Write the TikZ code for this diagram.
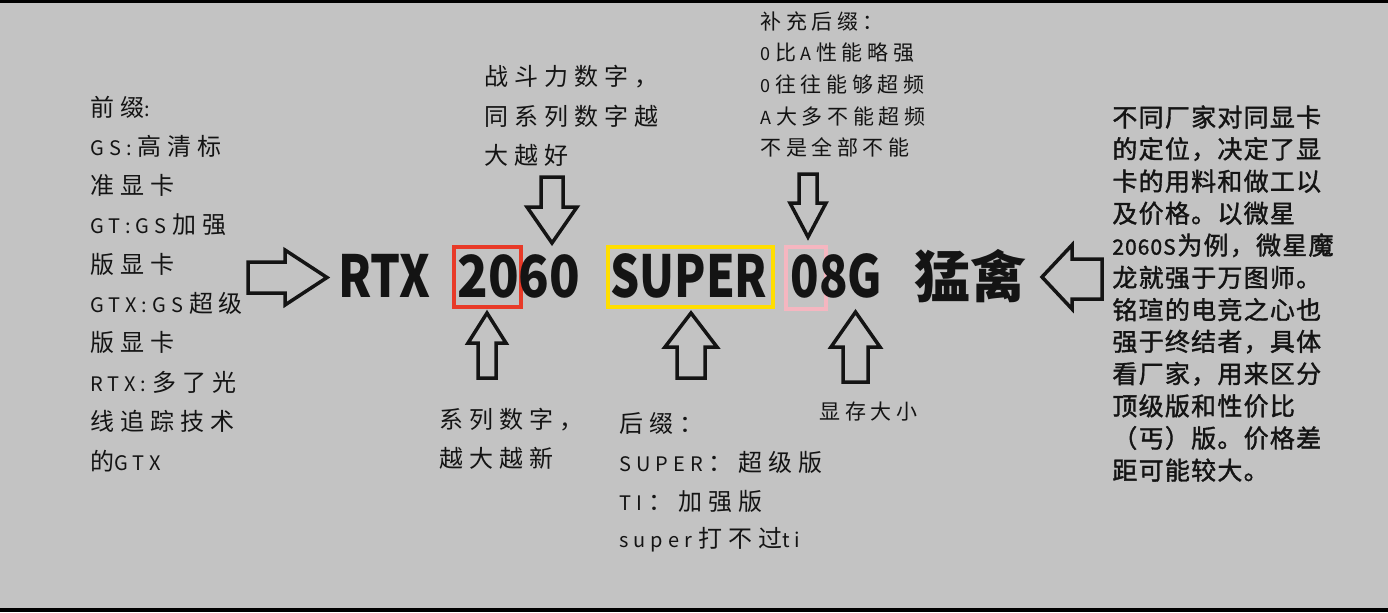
\documentclass[tikz,border=0pt]{standalone}
\usepackage{fontspec}
\setmainfont{Noto Sans CJK SC}
\newfontfamily\fA[LetterSpace=25]{Noto Sans CJK SC}
\newfontfamily\fB[LetterSpace=22]{Noto Sans CJK SC}
\newfontfamily\fC[LetterSpace=5,FakeBold=1.5]{Noto Sans CJK SC}
\newcommand\la[1]{{\fontsize{10}{12}\selectfont #1}\kern3pt}
\newcommand\lb[1]{{\fontsize{9}{11}\selectfont #1}\kern2.5pt}
\newcommand\lc[1]{{\fontsize{10.5}{12}\selectfont #1}\kern0.8pt}
\definecolor{bggray}{RGB}{195,195,195}
\definecolor{ink}{RGB}{20,20,20}
\definecolor{boxred}{RGB}{232,58,40}
\definecolor{boxyellow}{RGB}{255,222,0}
\definecolor{boxpink}{RGB}{245,182,192}
\tikzset{
  lblA/.style={anchor=west, inner sep=0pt, text=ink, font=\fA\fontsize{12}{14}\selectfont},
  lblB/.style={anchor=west, inner sep=0pt, text=ink, font=\fB\fontsize{10.5}{12}\selectfont},
  lblC/.style={anchor=west, inner sep=0pt, text=ink, font=\fC\fontsize{12.5}{14}\selectfont},
  title/.style={anchor=base west, inner sep=0pt, text=ink, font=\bfseries\fontsize{29}{34}\selectfont},
  blk/.style={draw=ink, line width=1.75pt, line join=miter},
  markbox/.style={draw=#1, line width=1.6pt, inner sep=0pt}
}
\begin{document}
\begin{tikzpicture}[x=0.5pt,y=-0.5pt]
\useasboundingbox (0,0) rectangle (1388,612);
\fill[bggray] (0,0) rectangle (1388,612);
\fill[black] (0,0) rectangle (1388,2.5);
\fill[black] (0,608) rectangle (1388,612);

% highlight boxes
\draw[markbox=boxred] (454,247) rectangle (521,307);
\draw[markbox=boxyellow] (608,247) rectangle (773,307);
\draw[markbox=boxpink] (786,247) rectangle (826,309);

% title
\node[title] (rtx) at (338,297) {\scalebox{0.81}[1]{RTX}};
\node[title] (num) at (457,297) {\scalebox{0.87}[1]{2060}};
\node[title] (super) at (610,297) {\scalebox{0.79}[1]{SUPER}};
\node[title] (mem) at (790,297) {\scalebox{0.81}[1]{08G}};
\node[anchor=center, inner sep=0pt, text=ink, font=\bfseries\fontsize{28}{32}\selectfont] (brand) at (970,276) {猛禽};

% block arrows
\draw[blk] (248,262) -- (285,262) -- (285,250) -- (327,277.5) -- (285,305) -- (285,293) -- (248,293) -- cycle;
\draw[blk] (1102,259) -- (1072,259) -- (1072,245) -- (1042,277) -- (1072,309) -- (1072,299) -- (1102,299) -- cycle;
\draw[blk] (541,177) -- (563,177) -- (563,207) -- (577,207) -- (552,243) -- (527,207) -- (541,207) -- cycle;
\draw[blk] (799,174) -- (817,174) -- (817,203) -- (826,203) -- (808,237) -- (790,203) -- (799,203) -- cycle;
\draw[blk] (478,378) -- (496,378) -- (496,343) -- (506,343) -- (487,313) -- (468,343) -- (478,343) -- cycle;
\draw[blk] (677,378) -- (705,378) -- (705,347) -- (717,347) -- (691,313) -- (665,347) -- (677,347) -- cycle;
\draw[blk] (843,382) -- (868,382) -- (868,347) -- (880,347) -- (855.5,312) -- (831,347) -- (843,347) -- cycle;

% left block
\foreach \t [count=\i from 0] in {{前缀\la{:}},{\la{GS:}高清标},{准显卡},{\la{GT:GS}加强},{版显卡},{\la{GTX:GS}超级},{版显卡},{\la{RTX:}多了光},{线追踪技术},{的\la{GTX}}}
  \node[lblA] (pre\i) at (90,{107+\i*39.3}) {\t};

% top middle
\foreach \t [count=\i from 0] in {{战斗力数字，},{同系列数字越},{大越好}}
  \node[lblA] (power\i) at (484,{77+\i*39}) {\t};

% bottom middle-left
\foreach \t [count=\i from 0] in {{系列数字，},{越大越新}}
  \node[lblA] (series\i) at (439,{420+\i*38.5}) {\t};

% suffix block
\foreach \t [count=\i from 0] in {{后缀：},{\la{SUPER}：超级版},{\la{TI}：加强版},{\la{super}打不过\la{ti}}}
  \node[lblA] (suf\i) at (619,{423+\i*39}) {\t};

% top right block
\foreach \t [count=\i from 0] in {{补充后缀：},{\lb{0}比\kern2pt\lb{A}性能略强},{\lb{0}往往能够超频},{\lb{A}大多不能超频},{不是全部不能}}
  \node[lblB] (extra\i) at (760,{21+\i*31.7}) {\t};

\node[lblB] (vram) at (819,412) {显存大小};

% right block
\foreach \t [count=\i from 0] in {{不同厂家对同显卡},{的定位，决定了显},{卡的用料和做工以},{及价格。以微星},{\lc{2060S}为例，微星魔},{龙就强于万图师。},{铭瑄的电竞之心也},{强于终结者，具体},{看厂家，用来区分},{顶级版和性价比},{（丐）版。价格差},{距可能较大。}}
  \node[lblC] (brandnote\i) at (1112,{117+\i*32.1}) {\t};
\end{tikzpicture}
\end{document}
